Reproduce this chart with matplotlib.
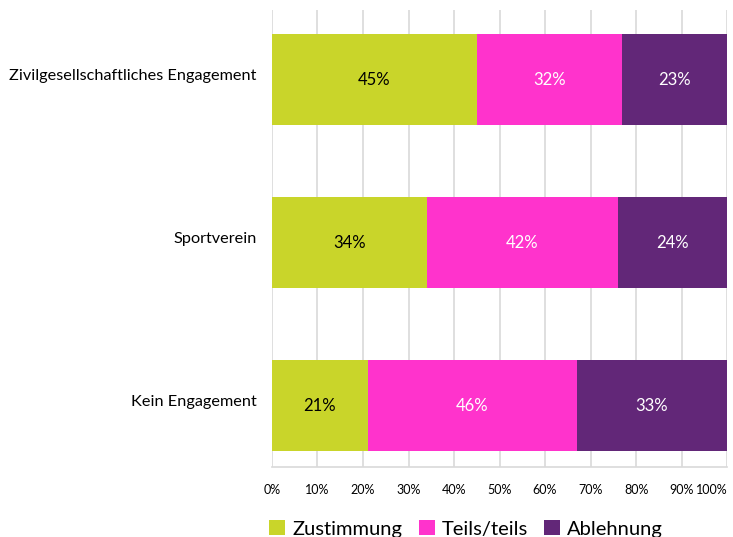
import matplotlib.pyplot as plt
import matplotlib.transforms as mtransforms
import numpy as np

# data
categories = ["Zivilgesellschaftliches Engagement", "Sportverein", "Kein Engagement"]
zustimmung = [45, 34, 21]
teils = [32, 42, 46]
ablehnung = [23, 24, 33]
series_names = ["Zustimmung", "Teils/teils", "Ablehnung"]
colors = ["#C9D52A", "#FF33CC", "#622778"]
text_colors = ["black", "white", "white"]

plt.rcParams["font.family"] = ["Lato", "DejaVu Sans"]

fig = plt.figure(figsize=(7.33, 5.37), dpi=100)
ax = fig.add_axes([0.371, 0.130, 0.621, 0.851])

y = np.arange(len(categories))
left = np.zeros(len(categories))
for vals, name, col, tcol in zip([zustimmung, teils, ablehnung], series_names, colors, text_colors):
    bars = ax.barh(y, vals, left=left, height=0.56, color=col, label=name, zorder=3)
    for b, v in zip(bars, vals):
        ax.text(b.get_x() + b.get_width() / 2, b.get_y() + b.get_height() / 2, f"{v}%",
                ha="center", va="center", color=tcol, fontsize=12, zorder=4)
    left += np.array(vals)

ax.set_xlim(0, 100)
ax.set_ylim(2.377, -0.426)
ax.set_xticks(np.arange(0, 101, 10))
ax.set_xticklabels([f"{t}%" for t in range(0, 101, 10)], fontsize=9)
ax.set_yticks(y)
ax.set_yticklabels(categories, fontsize=11.7)
ax.tick_params(axis="both", length=0)
ax.tick_params(axis="x", pad=12)
ax.tick_params(axis="y", pad=11)
# category labels sit a little above the bar centres in the reference
shift = mtransforms.ScaledTranslation(0, 5 / 100, fig.dpi_scale_trans)
for lab in ax.get_yticklabels():
    lab.set_transform(lab.get_transform() + shift)
ax.get_xticklabels()[-1].set_horizontalalignment("right")

ax.grid(axis="x", color="#d9d9d9", linewidth=1.2, zorder=0)
for s in ["top", "right", "left"]:
    ax.spines[s].set_visible(False)
ax.spines["bottom"].set_color("#d9d9d9")
ax.spines["bottom"].set_linewidth(1.2)

fig.legend(loc="lower center", bbox_to_anchor=(0.636, -0.035), ncol=3, frameon=False,
           fontsize=14.5, handlelength=0.8, handleheight=0.8, handletextpad=0.35,
           columnspacing=0.8)

fig.savefig("out.png", dpi=100)
